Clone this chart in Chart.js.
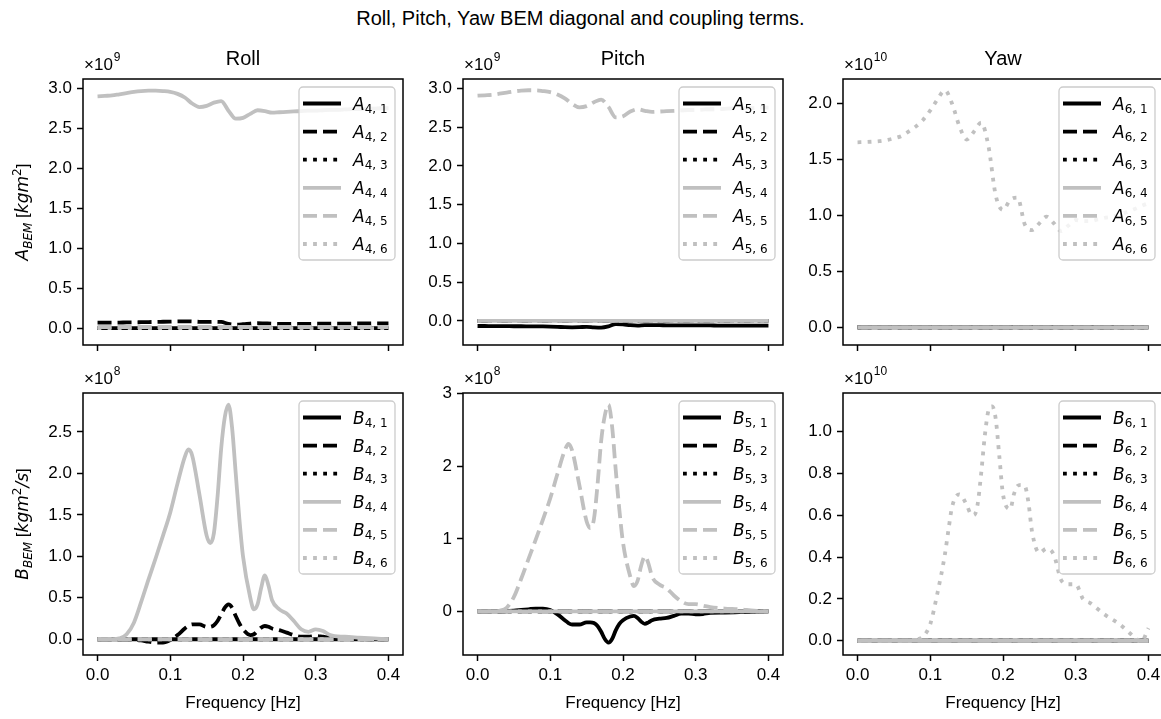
<!doctype html>
<html lang="en">
  <head>
    <meta charset="utf-8">
    <title>Roll, Pitch, Yaw BEM terms</title>
    <script src="https://cdn.jsdelivr.net/npm/chart.js"></script>
    <style>
      body { margin: 0; width: 1161px; height: 719px; overflow: hidden; position: relative; background: #fff; }
      #suptitle { position: absolute; left: 0; top: 7px; width: 1161px; text-align: center;
                  font: 20px "Liberation Sans", Arial, sans-serif; color: #000; }
      canvas { position: absolute; }
    </style>
  </head>
  <body>
    <div id="suptitle">Roll, Pitch, Yaw BEM diagonal and coupling terms.</div>
    <canvas id="rollA" width="405" height="415" style="left:0px;top:0px"></canvas>
    <canvas id="pitchA" width="405" height="415" style="left:380px;top:0px"></canvas>
    <canvas id="yawA" width="405" height="415" style="left:760px;top:0px"></canvas>
    <canvas id="rollB" width="405" height="411" style="left:0px;top:314px"></canvas>
    <canvas id="pitchB" width="405" height="411" style="left:380px;top:314px"></canvas>
    <canvas id="yawB" width="405" height="411" style="left:760px;top:314px"></canvas>
    <script>
      // frequency grids [Hz]
      const freqA = [0, 0.01, 0.02, 0.03, 0.04, 0.05, 0.06, 0.07, 0.08, 0.09, 0.10, 0.11, 0.12, 0.13,
        0.14, 0.15, 0.16, 0.17, 0.18, 0.19, 0.20, 0.21, 0.22, 0.23, 0.24, 0.25, 0.26, 0.27, 0.28,
        0.29, 0.30, 0.31, 0.32, 0.33, 0.34, 0.35, 0.36, 0.37, 0.38, 0.39, 0.40];
      const freqB = [0, 0.02, 0.03, 0.04, 0.05, 0.06, 0.07, 0.08, 0.09, 0.10, 0.11, 0.12, 0.125, 0.13,
        0.14, 0.15, 0.155, 0.16, 0.165, 0.17, 0.175, 0.18, 0.185, 0.19, 0.195, 0.20, 0.21, 0.215,
        0.22, 0.225, 0.23, 0.235, 0.24, 0.25, 0.26, 0.27, 0.28, 0.29, 0.30, 0.31, 0.32, 0.34, 0.36,
        0.38, 0.39, 0.40];
      const freqEnds = [0, 0.4];
      const freqTicks = [0, 0.1, 0.2, 0.3, 0.4];

      // added mass, top row (x1e9 for roll/pitch, x1e10 for yaw)
      const rollA44 = [2.90, 2.905, 2.91, 2.925, 2.94, 2.955, 2.965, 2.97, 2.97, 2.965, 2.955, 2.93,
        2.885, 2.81, 2.765, 2.78, 2.82, 2.84, 2.72, 2.62, 2.63, 2.68, 2.725, 2.715, 2.695, 2.70,
        2.705, 2.71, 2.715, 2.72, 2.72, 2.725, 2.73, 2.73, 2.735, 2.74, 2.74, 2.745, 2.745, 2.75, 2.75];
      const rollA42 = [0.07, 0.07, 0.07, 0.071, 0.072, 0.073, 0.075, 0.077, 0.079, 0.081, 0.083, 0.085,
        0.086, 0.084, 0.08, 0.078, 0.08, 0.078, 0.055, 0.045, 0.05, 0.058, 0.064, 0.06, 0.056, 0.055,
        0.055, 0.055, 0.055, 0.055, 0.056, 0.056, 0.057, 0.057, 0.058, 0.058, 0.059, 0.059, 0.06, 0.06, 0.06];
      const rollA45 = [0.015, 0.015];
      const pitchA55 = [2.905, 2.91, 2.915, 2.93, 2.945, 2.96, 2.97, 2.975, 2.975, 2.965, 2.95, 2.92,
        2.87, 2.80, 2.755, 2.77, 2.82, 2.855, 2.76, 2.625, 2.64, 2.70, 2.73, 2.71, 2.695, 2.70, 2.705,
        2.71, 2.715, 2.72, 2.72, 2.725, 2.73, 2.73, 2.735, 2.74, 2.74, 2.745, 2.745, 2.75, 2.75];
      const pitchA51 = [-0.065, -0.065, -0.066, -0.066, -0.067, -0.068, -0.068, -0.069, -0.07, -0.071,
        -0.073, -0.076, -0.08, -0.082, -0.08, -0.076, -0.082, -0.085, -0.07, -0.04, -0.045, -0.055,
        -0.06, -0.055, -0.055, -0.055, -0.056, -0.056, -0.057, -0.057, -0.058, -0.058, -0.058, -0.059,
        -0.059, -0.059, -0.06, -0.06, -0.06, -0.06, -0.06];
      const yawA66 = [1.655, 1.657, 1.66, 1.665, 1.675, 1.69, 1.71, 1.75, 1.795, 1.855, 1.94, 2.04, 2.12,
        2.0, 1.8, 1.68, 1.75, 1.83, 1.62, 1.18, 1.05, 1.14, 1.16, 0.92, 0.87, 0.93, 0.99, 0.93, 0.86,
        0.91, 0.96, 0.95, 0.95, 0.965, 0.98, 0.99, 1.01, 1.03, 1.055, 1.085, 1.11];

      // radiation damping, bottom row (x1e8 for roll/pitch, x1e10 for yaw)
      const rollB44 = [0, 0, 0.01, 0.06, 0.2, 0.45, 0.72, 0.98, 1.25, 1.53, 1.88, 2.2, 2.29, 2.22, 1.75,
        1.25, 1.16, 1.28, 1.72, 2.3, 2.68, 2.83, 2.55, 2.0, 1.45, 1.0, 0.5, 0.36, 0.42, 0.62, 0.77,
        0.65, 0.47, 0.36, 0.31, 0.22, 0.12, 0.09, 0.12, 0.1, 0.05, 0.03, 0.02, 0.01, 0.005, 0];
      const rollB42 = [0, 0, 0, 0, -0.005, -0.015, -0.03, -0.04, -0.04, -0.01, 0.05, 0.13, 0.16, 0.18,
        0.18, 0.15, 0.15, 0.17, 0.22, 0.3, 0.38, 0.42, 0.38, 0.28, 0.19, 0.12, 0.05, 0.06, 0.1, 0.14,
        0.16, 0.15, 0.13, 0.11, 0.08, 0.05, 0.03, 0.03, 0.04, 0.03, 0.02, 0.01, 0.005, 0, 0, 0];
      const pitchB55 = [0, 0, 0.01, 0.05, 0.2, 0.45, 0.72, 0.99, 1.27, 1.56, 1.9, 2.22, 2.31, 2.22,
        1.74, 1.24, 1.15, 1.27, 1.75, 2.35, 2.7, 2.85, 2.55, 1.95, 1.4, 0.95, 0.48, 0.35, 0.42, 0.63,
        0.76, 0.66, 0.48, 0.37, 0.32, 0.22, 0.14, 0.1, 0.1, 0.08, 0.06, 0.04, 0.03, 0.01, 0.005, 0];
      const pitchB51 = [0, 0, 0, 0.005, 0.01, 0.02, 0.03, 0.04, 0.04, 0.02, -0.04, -0.12, -0.16, -0.18,
        -0.18, -0.15, -0.15, -0.16, -0.2, -0.28, -0.38, -0.43, -0.38, -0.26, -0.17, -0.12, -0.07,
        -0.06, -0.09, -0.14, -0.17, -0.15, -0.12, -0.1, -0.09, -0.06, -0.03, -0.03, -0.04, -0.035,
        -0.02, -0.015, -0.01, -0.005, 0, 0];
      const yawB66 = [0, 0, 0, 0, 0, 0, 0, 0.005, 0.02, 0.08, 0.23, 0.41, 0.53, 0.64, 0.7, 0.65, 0.61,
        0.6, 0.65, 0.8, 0.98, 1.1, 1.12, 1.06, 0.88, 0.7, 0.63, 0.7, 0.74, 0.745, 0.74, 0.66, 0.52,
        0.42, 0.44, 0.41, 0.29, 0.27, 0.27, 0.2, 0.18, 0.125, 0.08, 0.02, -0.005, 0.06];

      // terms that stay on zero
      const zeroLine = [0, 0];

      // y tick labels per panel
      const ticksRollA = [0, 0.5, 1.0, 1.5, 2.0, 2.5, 3.0];
      const ticksPitchA = [0, 0.5, 1.0, 1.5, 2.0, 2.5, 3.0];
      const ticksYawA = [0, 0.5, 1.0, 1.5, 2.0];
      const ticksRollB = [0, 0.5, 1.0, 1.5, 2.0, 2.5];
      const ticksPitchB = [0, 1, 2, 3];
      const ticksYawB = [0, 0.2, 0.4, 0.6, 0.8, 1.0];

      const LINE_W = 3.8;
      const seriesStyle = [
        { color: '#000000', dash: [] },
        { color: '#000000', dash: [14, 6] },
        { color: '#000000', dash: [3.8, 6.3] },
        { color: '#c0c0c0', dash: [] },
        { color: '#c0c0c0', dash: [14, 6] },
        { color: '#c0c0c0', dash: [3.8, 6.3] }
      ];
      const tickFont = { family: '"Liberation Sans", Arial, sans-serif', size: 17 };
      const MATH = '"DejaVu Sans"';
      const TEXT = '"Liberation Sans"';

      function drawLegend(ctx, a, datasets) {
        const w = 96, h = 173, left = a.right - 8 - w, top = a.top + 8;
        ctx.save();
        ctx.beginPath();
        ctx.roundRect(left, top, w, h, 4);
        ctx.fillStyle = 'rgba(255,255,255,0.8)';
        ctx.fill();
        ctx.lineWidth = 1.3;
        ctx.strokeStyle = '#cccccc';
        ctx.stroke();
        datasets.forEach((ds, i) => {
          const y = top + 16.5 + i * 28.1;
          ctx.beginPath();
          ctx.setLineDash(ds.borderDash);
          ctx.lineWidth = ds.borderWidth;
          ctx.strokeStyle = ds.borderColor;
          ctx.moveTo(left + 4, y);
          ctx.lineTo(left + 42, y);
          ctx.stroke();
          ctx.setLineDash([]);
          const m = ds.label.match(/^(\w)_\{(\d),(\d)\}$/);
          ctx.fillStyle = '#000';
          ctx.textAlign = 'left';
          ctx.font = `italic 17px ${MATH}`;
          ctx.fillText(m[1], left + 54, y + 6);
          const mw = ctx.measureText(m[1]).width;
          ctx.font = `12px ${MATH}`;
          ctx.fillText(m[2] + ', ' + m[3], left + 54 + mw, y + 9);
        });
        ctx.restore();
      }

      // rotated rich text, baseline at x, centred on y
      function drawVertical(ctx, x, y, parts) {
        ctx.save();
        ctx.translate(x, y);
        ctx.rotate(-Math.PI / 2);
        let total = 0;
        const widths = parts.map(q => { ctx.font = q.font; const w = ctx.measureText(q.text).width; total += w; return w; });
        let cx = -total / 2;
        ctx.textAlign = 'left';
        parts.forEach((q, i) => { ctx.font = q.font; ctx.fillText(q.text, cx, q.dy || 0); cx += widths[i]; });
        ctx.restore();
      }

      function decor(p) {
        return {
          id: 'decor',
          afterDatasetsDraw(chart) {
            const { ctx, chartArea: a } = chart;
            ctx.save();
            ctx.lineWidth = 1.5;
            ctx.strokeStyle = '#000';
            ctx.strokeRect(a.left, a.top, a.right - a.left, a.bottom - a.top);
            ctx.restore();
            drawLegend(ctx, a, chart.data.datasets);
          },
          afterDraw(chart) {
            const { ctx, chartArea: a } = chart;
            ctx.save();
            ctx.fillStyle = '#000';
            ctx.textBaseline = 'alphabetic';
            if (p.title) {
              ctx.font = `20px ${TEXT}`;
              ctx.textAlign = 'center';
              ctx.fillText(p.title, (a.left + a.right) / 2, a.top - 14);
            }
            ctx.textAlign = 'left';
            ctx.font = `17px ${TEXT}`;
            ctx.fillText('\u00d710', a.left + 1, a.top - 9);
            const w = ctx.measureText('\u00d710').width;
            ctx.font = `12px ${TEXT}`;
            ctx.fillText(String(p.exponent), a.left + 2 + w, a.top - 18);
            if (p.yLabel) drawVertical(ctx, 28, (a.top + a.bottom) / 2, p.yLabel);
            ctx.restore();
          }
        };
      }

      function panel(id, p) {
        const datasets = p.series.map((s, i) => ({
          label: `${p.letter}_{${p.row},${i + 1}}`,
          data: s.x.map((x, k) => ({ x, y: s.y[k] })),
          borderColor: seriesStyle[i].color,
          borderDash: seriesStyle[i].dash,
          borderWidth: LINE_W,
          pointRadius: 0,
          cubicInterpolationMode: 'monotone',
          order: -i
        }));
        new Chart(document.getElementById(id), {
          type: 'line',
          data: { datasets },
          options: {
            responsive: false,
            animation: false,
            events: [],
            layout: { padding: { top: 79, right: 2, left: 0, bottom: 0 } },
            plugins: { legend: { display: false }, tooltip: { enabled: false } },
            scales: {
              x: {
                type: 'linear',
                min: -0.02,
                max: 0.42,
                afterBuildTicks: s => { s.ticks = freqTicks.map(v => ({ value: v })); },
                afterFit: s => { s.height = 70; },
                ticks: { display: p.xLabels, font: tickFont, color: '#000', padding: 4, maxRotation: 0,
                         callback: v => v.toFixed(1) },
                grid: { drawOnChartArea: false, tickLength: 6, tickWidth: 1.5, tickColor: '#000' },
                border: { display: false },
                title: { display: p.xLabels, text: 'Frequency [Hz]', font: tickFont, color: '#000',
                         padding: { top: 0, bottom: 11 } }
              },
              y: {
                type: 'linear',
                min: p.yMin,
                max: p.yMax,
                afterBuildTicks: s => { s.ticks = p.ticks.map(v => ({ value: v })); },
                afterFit: s => { s.width = 83; },
                ticks: { font: tickFont, color: '#000', padding: 5, callback: v => v.toFixed(p.decimals) },
                grid: { drawOnChartArea: false, tickLength: 6, tickWidth: 1.5, tickColor: '#000' },
                border: { display: false }
              }
            }
          },
          plugins: [decor(p)]
        });
      }

      const labelA = [
        { text: 'A', font: `italic 17px ${MATH}` },
        { text: 'BEM', font: `italic 12px ${MATH}`, dy: 4 },
        { text: ' [', font: `17px ${TEXT}` },
        { text: 'kgm', font: `italic 17px ${MATH}` },
        { text: '2', font: `12px ${MATH}`, dy: -7 },
        { text: ']', font: `17px ${TEXT}` }
      ];
      const labelB = [
        { text: 'B', font: `italic 17px ${MATH}` },
        { text: 'BEM', font: `italic 12px ${MATH}`, dy: 4 },
        { text: ' [', font: `17px ${TEXT}` },
        { text: 'kgm', font: `italic 17px ${MATH}` },
        { text: '2', font: `12px ${MATH}`, dy: -7 },
        { text: '/s', font: `italic 17px ${MATH}` },
        { text: ']', font: `17px ${TEXT}` }
      ];

      panel('rollA', {
        title: 'Roll', letter: 'A', row: 4, exponent: 9, yLabel: labelA, xLabels: false,
        yMin: -0.21, yMax: 3.116, ticks: ticksRollA, decimals: 1,
        series: [
          { x: freqEnds, y: zeroLine }, { x: freqA, y: rollA42 }, { x: freqEnds, y: zeroLine },
          { x: freqA, y: rollA44 }, { x: freqEnds, y: rollA45 }, { x: freqEnds, y: zeroLine }
        ]
      });
      panel('pitchA', {
        title: 'Pitch', letter: 'A', row: 5, exponent: 9, xLabels: false,
        yMin: -0.31, yMax: 3.12, ticks: ticksPitchA, decimals: 1,
        series: [
          { x: freqA, y: pitchA51 }, { x: freqEnds, y: zeroLine }, { x: freqEnds, y: zeroLine },
          { x: freqEnds, y: zeroLine }, { x: freqA, y: pitchA55 }, { x: freqEnds, y: zeroLine }
        ]
      });
      panel('yawA', {
        title: 'Yaw', letter: 'A', row: 6, exponent: 10, xLabels: false,
        yMin: -0.158, yMax: 2.221, ticks: ticksYawA, decimals: 1,
        series: [
          { x: freqEnds, y: zeroLine }, { x: freqEnds, y: zeroLine }, { x: freqEnds, y: zeroLine },
          { x: freqEnds, y: zeroLine }, { x: freqEnds, y: zeroLine }, { x: freqA, y: yawA66 }
        ]
      });
      panel('rollB', {
        letter: 'B', row: 4, exponent: 8, yLabel: labelB, xLabels: true,
        yMin: -0.19, yMax: 2.97, ticks: ticksRollB, decimals: 1,
        series: [
          { x: freqEnds, y: zeroLine }, { x: freqB, y: rollB42 }, { x: freqEnds, y: zeroLine },
          { x: freqB, y: rollB44 }, { x: freqEnds, y: zeroLine }, { x: freqEnds, y: zeroLine }
        ]
      });
      panel('pitchB', {
        letter: 'B', row: 5, exponent: 8, xLabels: true,
        yMin: -0.6, yMax: 3.01, ticks: ticksPitchB, decimals: 0,
        series: [
          { x: freqB, y: pitchB51 }, { x: freqEnds, y: zeroLine }, { x: freqEnds, y: zeroLine },
          { x: freqEnds, y: zeroLine }, { x: freqB, y: pitchB55 }, { x: freqEnds, y: zeroLine }
        ]
      });
      panel('yawB', {
        letter: 'B', row: 6, exponent: 10, xLabels: true,
        yMin: -0.068, yMax: 1.184, ticks: ticksYawB, decimals: 1,
        series: [
          { x: freqEnds, y: zeroLine }, { x: freqEnds, y: zeroLine }, { x: freqEnds, y: zeroLine },
          { x: freqEnds, y: zeroLine }, { x: freqEnds, y: zeroLine }, { x: freqB, y: yawB66 }
        ]
      });
    </script>
  </body>
</html>
